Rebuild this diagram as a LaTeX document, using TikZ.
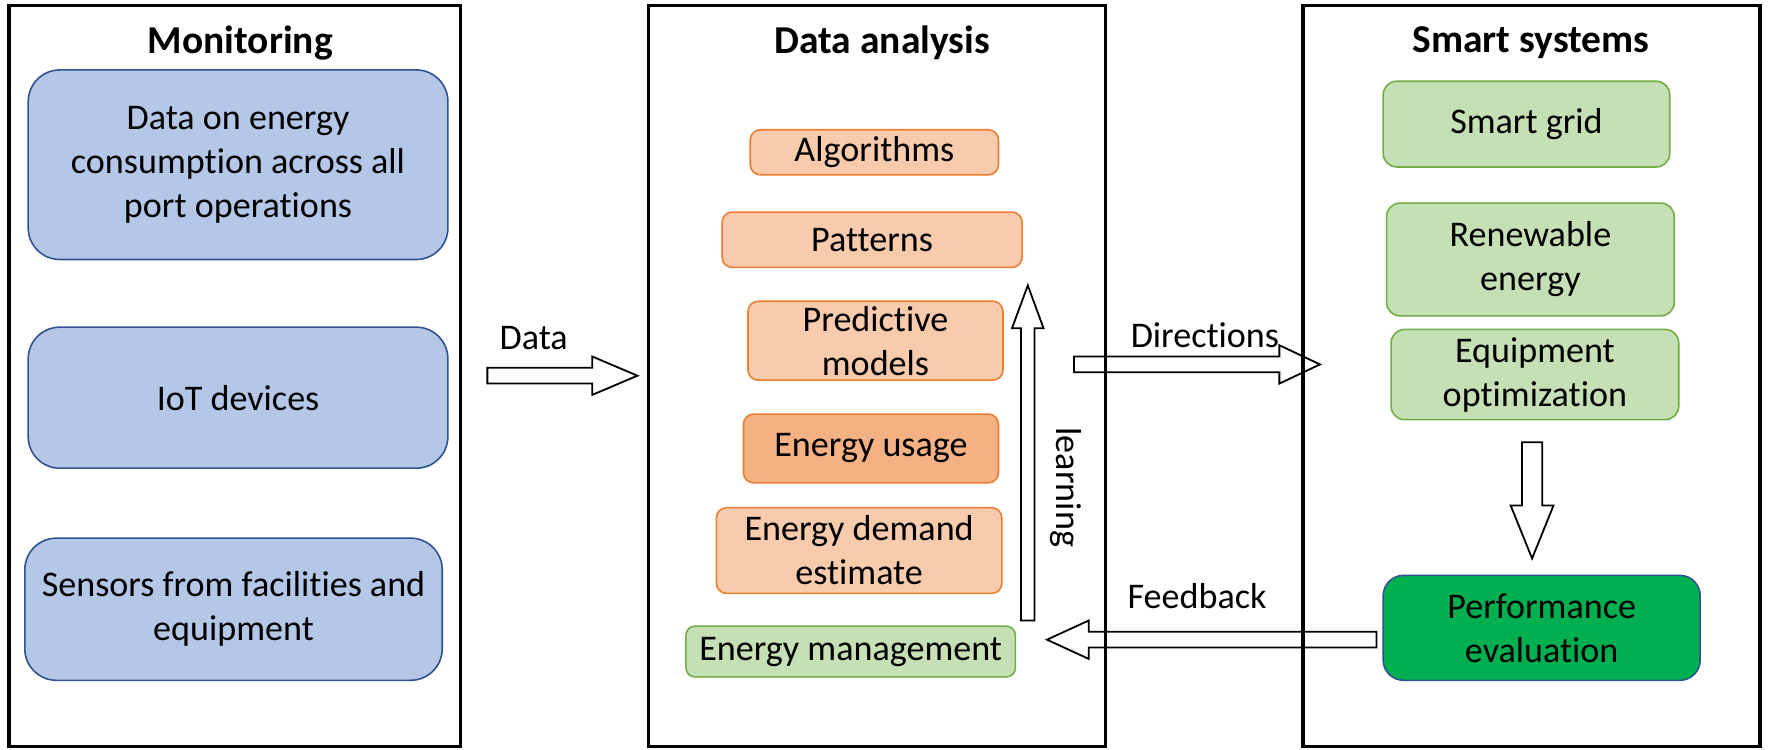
\documentclass[tikz,border=0pt]{standalone}
\usepackage{fontspec}
\setmainfont{Carlito}[Ligatures=NoCommon]
\usetikzlibrary{calc}

\definecolor{monfill}{HTML}{B4C7E7}
\definecolor{monline}{HTML}{2F528F}
\definecolor{anafill}{HTML}{F8CBAD}
\definecolor{anadark}{HTML}{F4B183}
\definecolor{analine}{HTML}{ED7D31}
\definecolor{smartfill}{HTML}{C5E0B4}
\definecolor{smartline}{HTML}{70AD47}
\definecolor{evalfill}{HTML}{00B050}

\begin{document}
\begin{tikzpicture}[x=1pt, y=-1pt,
    panel/.style={draw, line width=2.8pt, minimum width=#1, minimum height=657, inner sep=0},
    title/.style={font=\fontsize{35}{42}\selectfont\bfseries},
    txt/.style={font=\fontsize{32}{39}\selectfont, align=center, inner sep=0},
    monbox/.style={txt, draw=monline, fill=monfill, line width=1.4pt, rounded corners=28pt},
    anabox/.style={txt, draw=analine, fill=anafill, line width=1.4pt, rounded corners=9pt},
    smartbox/.style={txt, draw=smartline, fill=smartfill, line width=1.4pt, rounded corners=12pt},
    blockarrow/.style n args={3}{draw, line width=1.6pt, to path={
        ($(\tikztostart)!#1pt!90:(\tikztotarget)$)
        -- ($(\tikztotarget)!#3pt!(\tikztostart)!#1pt!90:(\tikztotarget)$)
        -- ($(\tikztotarget)!#3pt!(\tikztostart)!#2pt!90:(\tikztotarget)$)
        -- (\tikztotarget)
        -- ($(\tikztotarget)!#3pt!(\tikztostart)!#2pt!-90:(\tikztotarget)$)
        -- ($(\tikztotarget)!#3pt!(\tikztostart)!#1pt!-90:(\tikztotarget)$)
        -- ($(\tikztostart)!#1pt!-90:(\tikztotarget)$) -- cycle}}]
    \useasboundingbox (0,0) rectangle (1568,664);

    \node[panel=400] (P1) at (208,333.5) {};
    \node[panel=405] (P2) at (777.5,333.5) {};
    \node[panel=405] (P3) at (1357.5,333.5) {};

    \node[title] (T1) at (213,38) {Monitoring};
    \node[title] (T2) at (782,38) {Data analysis};
    \node[title] (T3) at (1357,38) {Smart systems};

    \node[monbox, minimum width=372, minimum height=168] (M1) at (211,146) {Data on energy\\consumption across all\\port operations};
    \node[monbox, minimum width=372, minimum height=125] (M2) at (211,352.5) {IoT devices};
    \node[monbox, minimum width=370, minimum height=126] (M3) at (207,540) {Sensors from facilities and\\equipment};

    \node[anabox, minimum width=220, minimum height=40] (A1) at (775,135) {Algorithms};
    \node[anabox, minimum width=266, minimum height=49] (A2) at (773,212.5) {Patterns};
    \node[anabox, minimum width=226, minimum height=70] (A3) at (776,302) {Predictive\\models};
    \node[anabox, fill=anadark, minimum width=226, minimum height=61] (A4) at (772,397.5) {Energy usage};
    \node[anabox, minimum width=253, minimum height=76] (A5) at (761.5,488) {Energy demand\\estimate};
    \node[smartbox, rounded corners=8pt, minimum width=292, minimum height=45] (A6) at (754,577.5) {Energy management};

    \node[smartbox, minimum width=254, minimum height=76] (S1) at (1353,110) {Smart grid};
    \node[smartbox, minimum width=255, minimum height=100] (S2) at (1356.5,230) {Renewable\\energy};
    \node[smartbox, minimum width=255, minimum height=80] (S3) at (1360.5,332) {Equipment\\optimization};
    \node[txt, draw=monline, fill=evalfill, line width=1.4pt, rounded corners=18pt, minimum width=281, minimum height=93] (S4) at (1366.5,556.5) {Performance\\evaluation};

    \coordinate (dS) at (432,333);
    \coordinate (dE) at (565,333);
    \coordinate (rS) at (952,323);
    \coordinate (rE) at (1170,323);
    \coordinate (fS) at (1220,567);
    \coordinate (fE) at (928,567);
    \coordinate (lS) at (911,550);
    \coordinate (lE) at (911,253);
    \coordinate (qS) at (1358,392);
    \coordinate (qE) at (1358,495);

    \draw[blockarrow={7}{17}{40}] (dS) to (dE);
    \draw[blockarrow={7}{17}{36}] (rS) to (rE);
    \draw[blockarrow={7}{17}{37}] (fS) to (fE);
    \draw[blockarrow={6}{14}{38}] (lS) to (lE);
    \draw[blockarrow={9}{19}{47}] (qS) to (qE);

    \node[txt] (DL) at (473,300) {Data};
    \node[txt] (RL) at (1068,297) {Directions};
    \node[txt] (FL) at (1061,528) {Feedback};
    \node[txt, rotate=-90] (LL) at (945,432) {learning};
\end{tikzpicture}
\end{document}
